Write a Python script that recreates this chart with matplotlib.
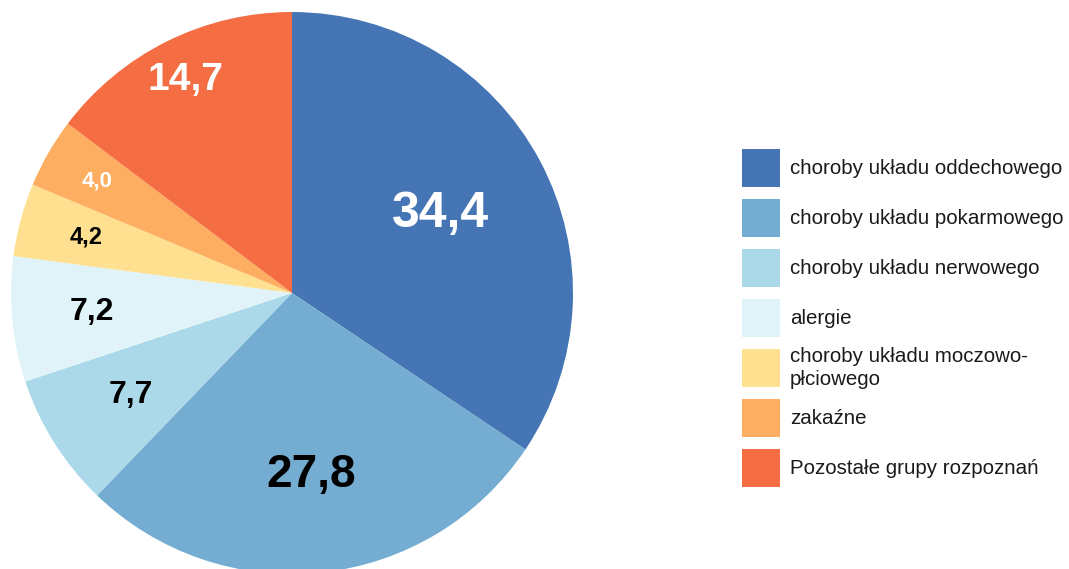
import numpy as np
import matplotlib
matplotlib.use("Agg")
import matplotlib.pyplot as plt
from matplotlib.patches import Rectangle

categories = [
    "choroby układu oddechowego",
    "choroby układu pokarmowego",
    "choroby układu nerwowego",
    "alergie",
    "choroby układu moczowo-\npłciowego",
    "zakaźne",
    "Pozostałe grupy rozpoznań",
]
values = [34.4, 27.8, 7.7, 7.2, 4.2, 4.0, 14.7]
colors = ["#4575B4", "#74ADD1", "#ABD9E9", "#E0F3F8", "#FEE090", "#FDAE61", "#F46D43"]
label_colors = ["white", "black", "black", "black", "black", "white", "white"]
label_sizes = [36, 33, 23, 23, 17, 16, 28]
label_radius = [0.60, 0.65, 0.68, 0.715, 0.758, 0.80, 0.848]

plt.rcParams['font.family'] = ['Liberation Sans', 'DejaVu Sans']

W, H = 1069, 569
fig = plt.figure(figsize=(W / 100, H / 100), dpi=100)

cx, cy, R = 292, 293, 281
ax = fig.add_axes([(cx - R) / W, (H - cy - R) / H, 2 * R / W, 2 * R / H])
wedges, _ = ax.pie(values, colors=colors, startangle=90, counterclock=False,
                   radius=1.0, wedgeprops=dict(linewidth=0))
ax.set_xlim(-1, 1)
ax.set_ylim(-1, 1)
ax.set_aspect('equal')
ax.axis('off')

for w, v, c, s, rf in zip(wedges, values, label_colors, label_sizes, label_radius):
    ang = np.deg2rad((w.theta1 + w.theta2) / 2)
    ax.text(rf * np.cos(ang), rf * np.sin(ang), f"{v:.1f}".replace('.', ','),
            ha='center', va='center', color=c, fontsize=s, fontweight='bold')

# legend
lax = fig.add_axes([0, 0, 1, 1])
lax.set_xlim(0, W)
lax.set_ylim(H, 0)
lax.axis('off')
sq = 38
x0 = 742
y_first = 168
step = 50
for i, (cat, col) in enumerate(zip(categories, colors)):
    yc = y_first + i * step
    lax.add_patch(Rectangle((x0, yc - sq / 2), sq, sq, facecolor=col, edgecolor='none'))
    lax.text(x0 + 48, yc, cat, ha='left', va='center', fontsize=14.8,
             color='#1a1a1a', linespacing=1.25)

fig.savefig("out.png", dpi=100)
